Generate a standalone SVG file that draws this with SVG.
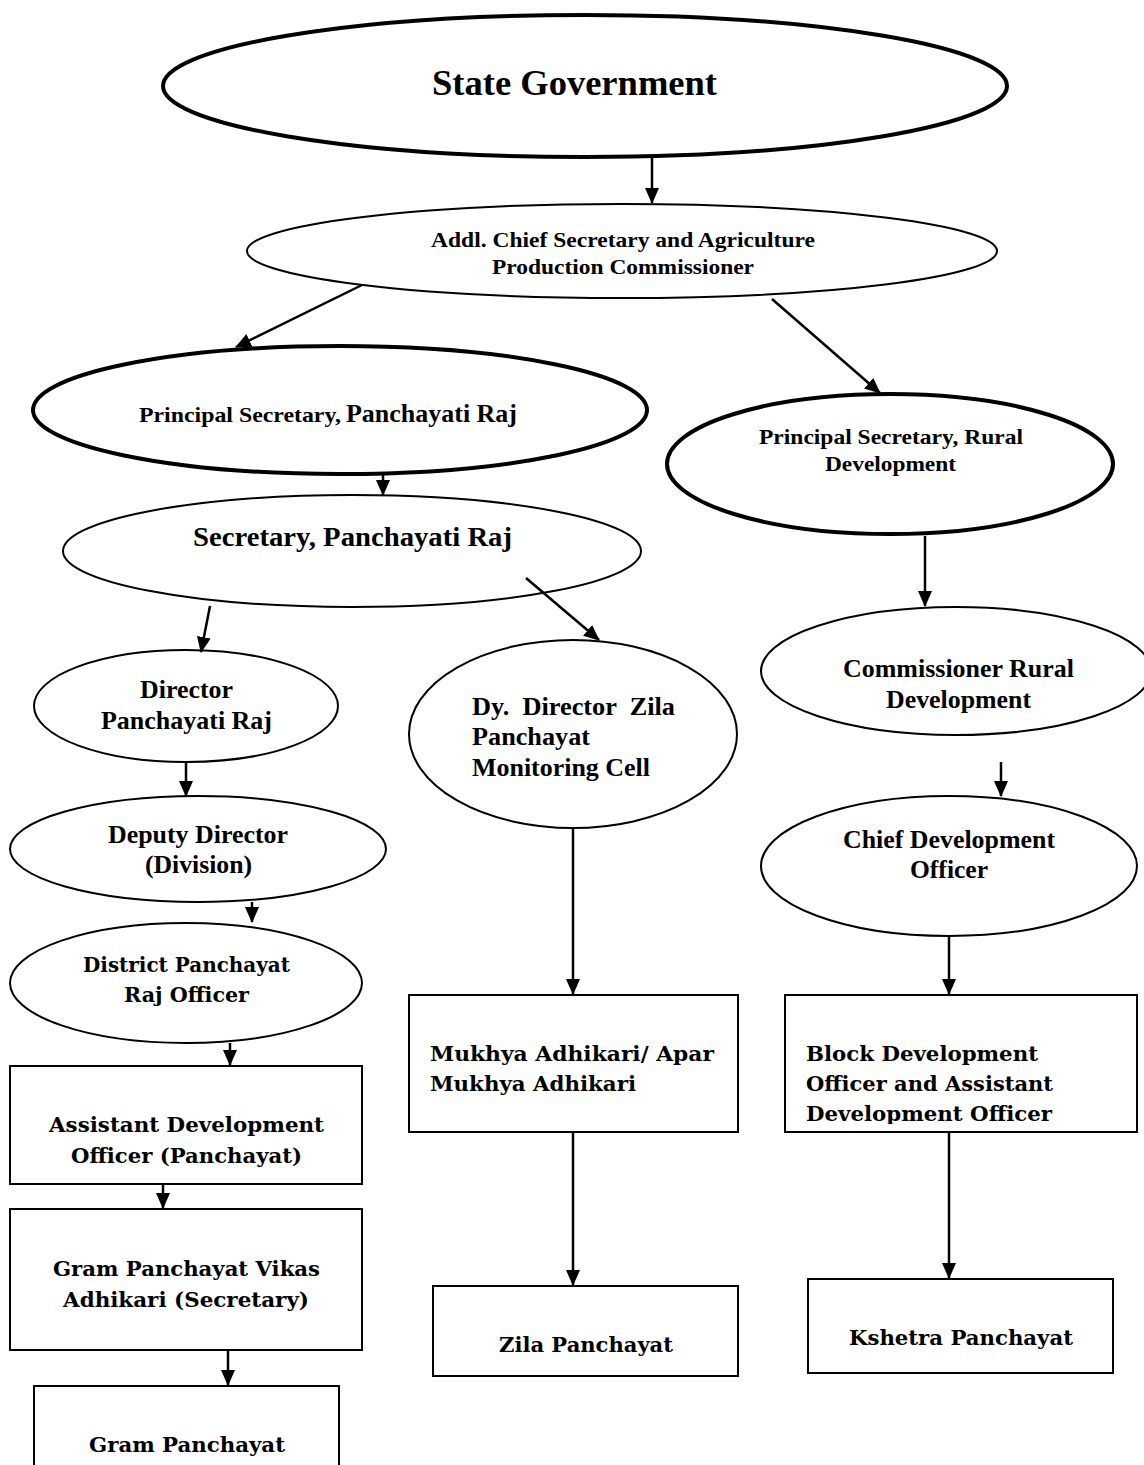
<svg xmlns="http://www.w3.org/2000/svg" width="1144" height="1465" viewBox="0 0 1144 1465">
<style>
.bg{fill:#fff}
.e{fill:#fff;stroke:#000;stroke-width:2}
.ek{fill:#fff;stroke:#000;stroke-width:4}
.r{fill:#fff;stroke:#000;stroke-width:2}
.t{font-family:'Liberation Serif','Times New Roman',Times,serif;font-weight:700;fill:#000}
.c{font-family:'DejaVu Serif',serif;font-weight:700;fill:#000}
.ln{stroke:#000;stroke-width:2.5;fill:none;marker-end:url(#ah)}
</style>
<defs>
<marker id="ah" markerUnits="userSpaceOnUse" markerWidth="16" markerHeight="16" refX="15" refY="7" orient="auto" viewBox="0 0 16 14">
<path d="M0,0 L16,7 L0,14 z" fill="#000"/>
</marker>
<clipPath id="clipBlock"><rect x="785" y="995" width="352" height="129"/></clipPath>
</defs>
<rect class="bg" x="0" y="0" width="1144" height="1465"/>

<g id="state-government">
<ellipse class="ek" cx="585" cy="86" rx="422" ry="71"/>
<text class="t" x="432" y="95" font-size="36" textLength="285" lengthAdjust="spacingAndGlyphs">State Government</text>
</g>

<g id="addl-chief-secretary">
<ellipse class="e" cx="622" cy="251" rx="375" ry="47"/>
<text class="t" x="431" y="247" font-size="21" textLength="384" lengthAdjust="spacingAndGlyphs">Addl. Chief Secretary and Agriculture</text>
<text class="t" x="492" y="274" font-size="21" textLength="262" lengthAdjust="spacingAndGlyphs">Production Commissioner</text>
</g>

<g id="principal-secretary-pr">
<ellipse class="ek" cx="340" cy="410" rx="307" ry="64"/>
<text class="t" x="139" y="422" font-size="21" textLength="202" lengthAdjust="spacingAndGlyphs">Principal Secretary,</text>
<text class="t" x="346" y="422" font-size="25" textLength="171" lengthAdjust="spacingAndGlyphs">Panchayati Raj</text>
</g>

<g id="principal-secretary-rd">
<ellipse class="ek" cx="890" cy="464" rx="223" ry="70"/>
<text class="t" x="759" y="444" font-size="21" textLength="264" lengthAdjust="spacingAndGlyphs">Principal Secretary, Rural</text>
<text class="t" x="825" y="471" font-size="21" textLength="131" lengthAdjust="spacingAndGlyphs">Development</text>
</g>

<g id="secretary-pr">
<ellipse class="e" cx="352" cy="551" rx="289" ry="56"/>
<text class="t" x="193" y="546" font-size="28" textLength="319" lengthAdjust="spacingAndGlyphs">Secretary, Panchayati Raj</text>
</g>

<g id="director-pr">
<ellipse class="e" cx="186" cy="706" rx="152" ry="56"/>
<text class="t" x="140" y="698" font-size="25" textLength="93" lengthAdjust="spacingAndGlyphs">Director</text>
<text class="t" x="101" y="729" font-size="25" textLength="171" lengthAdjust="spacingAndGlyphs">Panchayati Raj</text>
</g>

<g id="dy-director-zila">
<ellipse class="e" cx="573" cy="734" rx="164" ry="94"/>
<text class="t" x="472" y="715" font-size="25" textLength="203" lengthAdjust="spacingAndGlyphs" xml:space="preserve">Dy.  Director  Zila</text>
<text class="t" x="472" y="745" font-size="25" textLength="118" lengthAdjust="spacingAndGlyphs">Panchayat</text>
<text class="t" x="472" y="776" font-size="25" textLength="178" lengthAdjust="spacingAndGlyphs">Monitoring Cell</text>
</g>

<g id="commissioner-rd">
<ellipse class="e" cx="956" cy="671" rx="195" ry="64"/>
<text class="t" x="843" y="677" font-size="25" textLength="231" lengthAdjust="spacingAndGlyphs">Commissioner Rural</text>
<text class="t" x="886" y="708" font-size="25" textLength="145" lengthAdjust="spacingAndGlyphs">Development</text>
</g>

<g id="deputy-director">
<ellipse class="e" cx="198" cy="849" rx="188" ry="53"/>
<text class="t" x="108" y="843" font-size="25" textLength="180" lengthAdjust="spacingAndGlyphs">Deputy Director</text>
<text class="t" x="145" y="873" font-size="25" textLength="107" lengthAdjust="spacingAndGlyphs">(Division)</text>
</g>

<g id="chief-development-officer">
<ellipse class="e" cx="949" cy="866" rx="188" ry="70"/>
<text class="t" x="843" y="848" font-size="25" textLength="212" lengthAdjust="spacingAndGlyphs">Chief Development</text>
<text class="t" x="910" y="878" font-size="25" textLength="78" lengthAdjust="spacingAndGlyphs">Officer</text>
</g>

<g id="district-panchayat-raj-officer">
<ellipse class="e" cx="186" cy="983" rx="176" ry="60"/>
<text class="c" x="83" y="972" font-size="21" textLength="207" lengthAdjust="spacingAndGlyphs">District Panchayat</text>
<text class="c" x="124" y="1002" font-size="21" textLength="125" lengthAdjust="spacingAndGlyphs">Raj Officer</text>
</g>

<g id="mukhya-adhikari">
<rect class="r" x="409" y="995" width="329" height="137"/>
<text class="c" x="430" y="1061" font-size="21" textLength="284" lengthAdjust="spacingAndGlyphs">Mukhya Adhikari/ Apar</text>
<text class="c" x="430" y="1091" font-size="21" textLength="206" lengthAdjust="spacingAndGlyphs">Mukhya Adhikari</text>
</g>

<g id="block-development-officer">
<rect class="r" x="785" y="995" width="352" height="137"/>
<g clip-path="url(#clipBlock)">
<text class="c" x="806" y="1061" font-size="21" textLength="232" lengthAdjust="spacingAndGlyphs">Block Development</text>
<text class="c" x="806" y="1091" font-size="21" textLength="247" lengthAdjust="spacingAndGlyphs">Officer and Assistant</text>
<text class="c" x="806" y="1121" font-size="21" textLength="246" lengthAdjust="spacingAndGlyphs">Development Officer</text>
</g>
</g>

<g id="assistant-development-officer">
<rect class="r" x="10" y="1066" width="352" height="118"/>
<text class="c" x="49" y="1132" font-size="21" textLength="275" lengthAdjust="spacingAndGlyphs">Assistant Development</text>
<text class="c" x="71" y="1163" font-size="21" textLength="231" lengthAdjust="spacingAndGlyphs">Officer (Panchayat)</text>
</g>

<g id="gram-panchayat-vikas-adhikari">
<rect class="r" x="10" y="1209" width="352" height="141"/>
<text class="c" x="53" y="1276" font-size="21" textLength="267" lengthAdjust="spacingAndGlyphs">Gram Panchayat Vikas</text>
<text class="c" x="63" y="1307" font-size="21" textLength="246" lengthAdjust="spacingAndGlyphs">Adhikari (Secretary)</text>
</g>

<g id="gram-panchayat">
<rect class="r" x="34" y="1386" width="305" height="90"/>
<text class="c" x="89" y="1452" font-size="21" textLength="196" lengthAdjust="spacingAndGlyphs">Gram Panchayat</text>
</g>

<g id="zila-panchayat">
<rect class="r" x="433" y="1286" width="305" height="90"/>
<text class="c" x="499" y="1352" font-size="21" textLength="174" lengthAdjust="spacingAndGlyphs">Zila Panchayat</text>
</g>

<g id="kshetra-panchayat">
<rect class="r" x="808" y="1279" width="305" height="94"/>
<text class="c" x="849" y="1345" font-size="21" textLength="224" lengthAdjust="spacingAndGlyphs">Kshetra Panchayat</text>
</g>

<g id="connectors">
<line class="ln" x1="652" y1="157" x2="652" y2="203"/>
<line class="ln" x1="362" y1="285" x2="236" y2="347"/>
<line class="ln" x1="772" y1="299" x2="880" y2="393"/>
<line class="ln" x1="383" y1="475" x2="383" y2="495"/>
<line class="ln" x1="925" y1="536" x2="925" y2="606"/>
<line class="ln" x1="210" y1="606" x2="201" y2="652"/>
<line class="ln" x1="526" y1="578" x2="599" y2="640"/>
<line class="ln" x1="186" y1="762" x2="186" y2="796"/>
<line class="ln" x1="1001" y1="762" x2="1001" y2="796"/>
<line class="ln" x1="252" y1="902" x2="252" y2="922"/>
<line class="ln" x1="949" y1="936" x2="949" y2="994"/>
<line class="ln" x1="573" y1="828" x2="573" y2="994"/>
<line class="ln" x1="230" y1="1043" x2="230" y2="1065"/>
<line class="ln" x1="163" y1="1184" x2="163" y2="1208"/>
<line class="ln" x1="228" y1="1350" x2="228" y2="1385"/>
<line class="ln" x1="573" y1="1132" x2="573" y2="1285"/>
<line class="ln" x1="949" y1="1132" x2="949" y2="1278"/>
</g>
</svg>
